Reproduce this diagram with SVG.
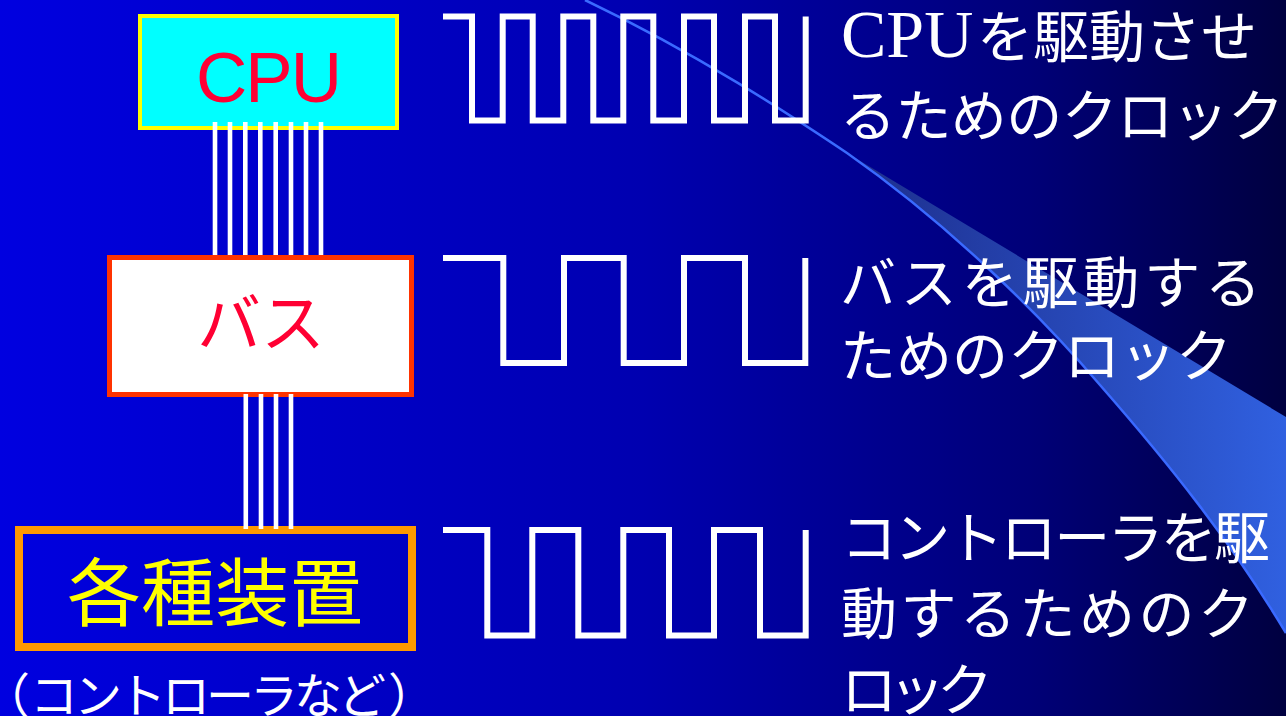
<svg xmlns="http://www.w3.org/2000/svg" width="1286" height="716" viewBox="0 0 1286 716">
  <defs>
    <linearGradient id="bg" x1="0" y1="0" x2="1286" y2="0" gradientUnits="userSpaceOnUse">
      <stop offset="0" stop-color="#0000E0"/>
      <stop offset="0.5" stop-color="#0000B0"/>
      <stop offset="0.8" stop-color="#000078"/>
      <stop offset="1" stop-color="#000040"/>
    </linearGradient>
    <linearGradient id="wedge" x1="850" y1="0" x2="1286" y2="0" gradientUnits="userSpaceOnUse">
      <stop offset="0" stop-color="#1D2E8C"/>
      <stop offset="1" stop-color="#3060E0"/>
    </linearGradient>
    <style>
      .clock { fill: none; stroke: #FFFFFF; stroke-width: 6; stroke-linejoin: miter; }
      .wire { stroke: #FFFFFF; stroke-width: 4.6; }
      .jp { font-family: "Noto Sans CJK JP", "Noto Sans CJK SC", sans-serif; }
      .lbl { fill: #FFFFFF; font-size: 56px; }
      .serif { font-family: "Liberation Serif", "Times New Roman", serif; }
    </style>
  </defs>

  <rect x="0" y="0" width="1286" height="716" fill="url(#bg)"/>

  <g id="decoration">
    <path d="M847,153 C950,225 1040,315 1100,385 C1170,465 1230,540 1286,633 L1286,417 Z" fill="url(#wedge)"/>
    <path d="M585,0 C700,55 790,115 847,153 C950,225 1040,315 1100,385 C1170,465 1230,540 1286,633" fill="none" stroke="#3A6AFF" stroke-width="2.5"/>
  </g>

  <g id="node-cpu">
    <rect x="140" y="16" width="257" height="112" fill="#00FFFF" stroke="#FFFF00" stroke-width="4"/>
    <text x="268" y="102" text-anchor="middle" font-family="Liberation Sans, Arial, sans-serif" font-size="71" letter-spacing="-2" fill="#FF0033">CPU</text>
  </g>

  <g id="node-bus">
    <rect x="109.5" y="257.5" width="302" height="137" fill="#FFFFFF" stroke="#FF3300" stroke-width="5"/>
    <text class="jp" x="261" y="346" text-anchor="middle" font-size="64" fill="#FF0033">バス</text>
  </g>

  <g id="node-devices">
    <rect x="19" y="530" width="393" height="117" fill="none" stroke="#FF9900" stroke-width="8"/>
    <text class="jp" x="215" y="620" text-anchor="middle" font-size="74" fill="#FFFF00">各種装置</text>
    <text class="jp" y="713" font-size="48" fill="#FFFFFF"><tspan x="-18">（</tspan><tspan x="30" textLength="356" lengthAdjust="spacing">コントローラなど</tspan><tspan x="388">）</tspan></text>
  </g>

  <g id="connectors">
    <line class="wire" x1="215" y1="122" x2="215" y2="255"/>
    <line class="wire" x1="230" y1="122" x2="230" y2="255"/>
    <line class="wire" x1="245.3" y1="122" x2="245.3" y2="255"/>
    <line class="wire" x1="260.3" y1="122" x2="260.3" y2="255"/>
    <line class="wire" x1="275.7" y1="122" x2="275.7" y2="255"/>
    <line class="wire" x1="291" y1="122" x2="291" y2="255"/>
    <line class="wire" x1="306" y1="122" x2="306" y2="255"/>
    <line class="wire" x1="321" y1="122" x2="321" y2="255"/>
    <line class="wire" x1="245.8" y1="394" x2="245.8" y2="529"/>
    <line class="wire" x1="261" y1="394" x2="261" y2="529"/>
    <line class="wire" x1="276" y1="394" x2="276" y2="529"/>
    <line class="wire" x1="291" y1="394" x2="291" y2="529"/>
  </g>

  <g id="clock-cpu">
    <path class="clock" d="M443,16.5 H472 V120.5 H502.7 V16.5 H532.7 V120.5 H563.3 V16.5 H593.3 V120.5 H623.3 V16.5 H653.3 V120.5 H684 V16.5 H714 V120.5 H745 V16.5 H775 V120.5 H805.7 V16.5"/>
    <text class="jp lbl" y="57"><tspan class="serif" x="841" font-size="68">CPU</tspan><tspan x="977">を駆動させ</tspan></text>
    <text class="jp lbl" x="840" y="136" textLength="444" lengthAdjust="spacing">るためのクロック</text>
  </g>

  <g id="clock-bus">
    <path class="clock" d="M443,258 H503.3 V363 H564 V258 H623.7 V363 H684 V258 H745 V363 H805.3 V258"/>
    <text class="jp lbl" x="840" y="303" textLength="421" lengthAdjust="spacing">バスを駆動する</text>
    <text class="jp lbl" x="840" y="376" textLength="392" lengthAdjust="spacing">ためのクロック</text>
  </g>

  <g id="clock-controller">
    <path class="clock" d="M443,530 H487.3 V635.5 H532.3 V530 H578.3 V635.5 H623.3 V530 H669 V635.5 H714 V530 H760 V635.5 H805.7 V530"/>
    <text class="jp lbl" x="841" y="558" textLength="429" lengthAdjust="spacing">コントローラを駆</text>
    <text class="jp lbl" x="841" y="634" textLength="413" lengthAdjust="spacing">動するためのク</text>
    <text class="jp lbl" x="841" y="710" textLength="152" lengthAdjust="spacing">ロック</text>
  </g>
</svg>
